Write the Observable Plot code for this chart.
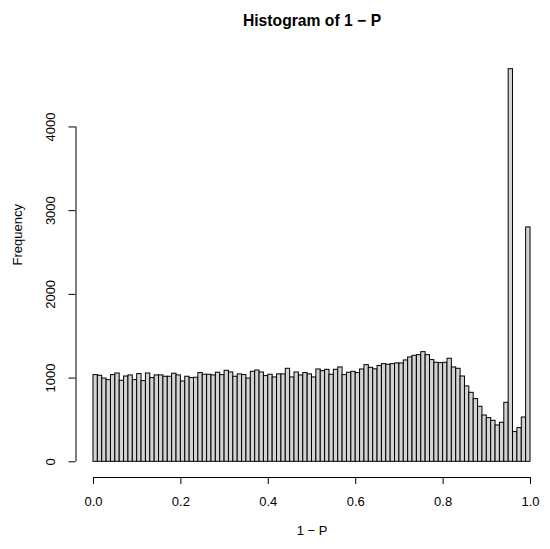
<!DOCTYPE html>
<html>
<head>
<meta charset="utf-8">
<script src="https://cdn.jsdelivr.net/npm/d3@7"></script>
<script src="https://cdn.jsdelivr.net/npm/@observablehq/plot@0.6"></script>
<style>
  html, body { margin: 0; padding: 0; background: #fff; }
  svg { font-family: "Liberation Sans", Arial, Helvetica, sans-serif; }
</style>
</head>
<body>
<div id="chart"></div>
<script>
// Bin counts for 1 − P, breaks every 0.01 from 0 to 1
const counts = [
  1036, 1028, 995, 976, 1036, 1055, 968, 1019, 1032, 976,
  1048, 964, 1055, 1000, 1032, 1032, 1016, 1016, 1052, 1032,
  960, 1016, 1000, 1004, 1060, 1040, 1040, 1032, 1064, 1036,
  1087, 1067, 1016, 1044, 1036, 995, 1075, 1091, 1067, 1024,
  1040, 1008, 1044, 1044, 1111, 1008, 1067, 1032, 1060, 1044,
  1008, 1103, 1083, 1099, 1040, 1099, 1127, 1036, 1064, 1075,
  1060, 1103, 1155, 1123, 1105, 1145, 1167, 1159, 1167, 1175,
  1175, 1211, 1247, 1266, 1274, 1310, 1274, 1215, 1183, 1179,
  1183, 1231, 1127, 1111, 1019, 900, 824, 749, 657, 553,
  522, 490, 434, 466, 705, 4690, 355, 403, 529, 2800
];
const binWidth = 0.01;
const xTicks = [0, 0.2, 0.4, 0.6, 0.8, 1.0];
const yTicks = [0, 1000, 2000, 3000, 4000];
const title = "Histogram of 1 \u2212 P";
const xLabel = "1 \u2212 P";
const yLabel = "Frequency";

const bins = counts.map((c, i) => ({x1: i * binWidth, x2: (i + 1) * binWidth, count: c}));
const ymax = d3.max(counts);
const xDomain = [-0.04, 1.04];
const yDomain = [-0.04 * ymax, 1.04 * ymax];

const chart = Plot.plot({
  width: 550,
  height: 549,
  marginLeft: 75.5,
  marginRight: 2.5,
  marginTop: 53,
  marginBottom: 72,
  style: {fontSize: "13px", fontFamily: "'Liberation Sans', Arial, Helvetica, sans-serif", color: "black", background: "white"},
  x: {domain: xDomain, axis: null},
  y: {domain: yDomain, axis: null},
  marks: [
    Plot.rectY(bins, {x1: "x1", x2: "x2", y: "count", fill: "#d3d3d3", stroke: "black", strokeWidth: 1}),
    Plot.ruleX([xDomain[0]], {y1: yTicks[0], y2: yTicks[yTicks.length - 1], stroke: "black", strokeWidth: 1}),
    Plot.ruleY([yDomain[0]], {x1: xTicks[0], x2: xTicks[xTicks.length - 1], stroke: "black", strokeWidth: 1}),
    Plot.axisY(yTicks, {anchor: "left", tickSize: 7, tickPadding: 14, tickRotate: -90, label: null, stroke: "black", strokeWidth: 1, fill: "black", tickFormat: d => String(d)}),
    Plot.axisX(xTicks, {anchor: "bottom", tickSize: 7, tickPadding: 12, label: null, stroke: "black", strokeWidth: 1, fill: "black", tickFormat: d3.format(".1f")}),
    Plot.text([title], {frameAnchor: "top", dy: -39, fontWeight: "bold", fontSize: 15.7, fill: "black"}),
    Plot.text([xLabel], {frameAnchor: "bottom", dy: 57, fontSize: 13, fill: "black"}),
    Plot.text([yLabel], {frameAnchor: "left", dx: -58, rotate: -90, fontSize: 13, fill: "black"})
  ]
});
document.getElementById("chart").appendChild(chart);
</script>
</body>
</html>
